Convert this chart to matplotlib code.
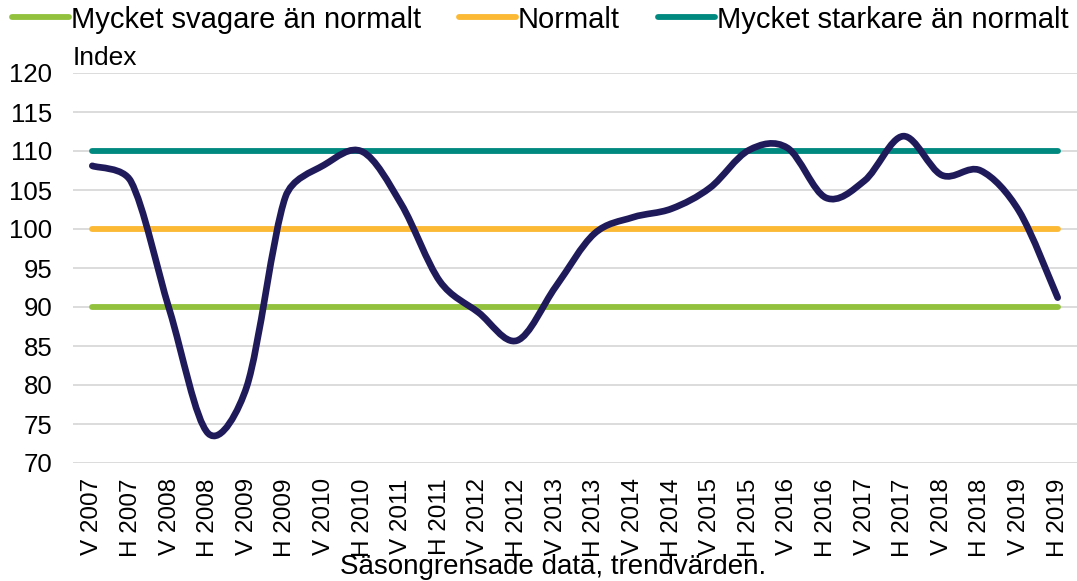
import numpy as np
import matplotlib
matplotlib.use("Agg")
import matplotlib.pyplot as plt
from matplotlib.path import Path
from matplotlib.patches import PathPatch
from matplotlib.lines import Line2D

plt.rcParams['font.family'] = ['Liberation Sans', 'DejaVu Sans']

# ------------------------------------------------------------
# data
# ------------------------------------------------------------
perioder = ["V 2007", "H 2007", "V 2008", "H 2008", "V 2009", "H 2009",
            "V 2010", "H 2010", "V 2011", "H 2011", "V 2012", "H 2012",
            "V 2013", "H 2013", "V 2014", "H 2014", "V 2015", "H 2015",
            "V 2016", "H 2016", "V 2017", "H 2017", "V 2018", "H 2018",
            "V 2019", "H 2019"]
index_varden = [108.1, 106.1, 89.6, 73.8, 79.8, 104.1,
                108.2, 109.9, 103.2, 93.3, 89.3, 85.7,
                92.6, 99.4, 101.5, 102.6, 105.3, 110.1,
                110.4, 104.0, 106.2, 111.9, 106.9, 107.5,
                102.3, 91.2]
svagare = 90
normalt = 100
starkare = 110

c_green = "#92C13E"
c_orange = "#FBB934"
c_teal = "#00897F"
c_navy = "#1F1B5B"

fig = plt.figure(figsize=(10.77, 5.81), dpi=100)
ax = fig.add_axes([73/1077, 1 - 463/581, 1004/1077, 390/581])

x = np.arange(len(perioder))
n = len(x)

# level lines
ax.plot(x, [svagare]*n, color=c_green, lw=4.2, solid_capstyle='round', zorder=3)
ax.plot(x, [normalt]*n, color=c_orange, lw=4.2, solid_capstyle='round', zorder=3)
ax.plot(x, [starkare]*n, color=c_teal, lw=4.2, solid_capstyle='round', zorder=3)

# smoothed index line: catmull-rom style bezier through the points,
# control arms capped on short segments so it doesn't overshoot
y = np.array(index_varden)
ys = 7.8 / 38.6  # y unit vs x unit on screen
pts = np.column_stack([x, y * ys])
arms = [(pts[min(i+1, n-1)] - pts[max(i-1, 0)]) / 6 for i in range(n)]

def cap(v, L, k=0.4):
    m = np.hypot(*v)
    return v * min(1.0, k * L / m) if m > 0 else v

verts = [(x[0], y[0])]
codes = [Path.MOVETO]
for i in range(n - 1):
    L = np.hypot(*(pts[i+1] - pts[i]))
    c1 = pts[i] + cap(arms[i], L)
    c2 = pts[i+1] - cap(arms[i+1], L)
    verts += [(c1[0], c1[1] / ys), (c2[0], c2[1] / ys), (x[i+1], y[i+1])]
    codes += [Path.CURVE4]*3
ax.add_patch(PathPatch(Path(verts, codes), fill=False, edgecolor=c_navy,
                       lw=4.8, capstyle='round', joinstyle='round', zorder=4))

ax.set_xlim(-0.5, n - 0.5)
ax.set_ylim(70, 120)
ax.set_yticks(range(70, 121, 5))
ax.set_xticks(x)
ax.set_xticklabels(perioder, rotation=90, fontsize=17.5)
ax.tick_params(axis='y', labelsize=18.5, length=0, pad=15)
ax.tick_params(axis='x', length=0, pad=11)
ax.grid(axis='y', color='#D9D9D9', lw=1.3)
ax.set_axisbelow(True)
for s in ax.spines.values():
    s.set_visible(False)

fig.text(73/1077, 1 - 65/581, "Index", fontsize=19, ha='left', va='baseline')
fig.text(553/1077, 1 - 574/581, "Säsongrensade data, trendvärden.",
         fontsize=20, ha='center', va='baseline')

handles = [Line2D([], [], color=c_green, lw=4.2, solid_capstyle='round'),
           Line2D([], [], color=c_orange, lw=4.2, solid_capstyle='round'),
           Line2D([], [], color=c_teal, lw=4.2, solid_capstyle='round')]
fig.legend(handles, ["Mycket svagare än normalt", "Normalt", "Mycket starkare än normalt"],
           loc='upper left', bbox_to_anchor=(12/1077, 1 - 5.5/581), ncol=3, frameon=False,
           fontsize=21, handlelength=1.95, handletextpad=0.07, columnspacing=1.3,
           borderaxespad=0, borderpad=0)

fig.savefig("out.png", dpi=100)
